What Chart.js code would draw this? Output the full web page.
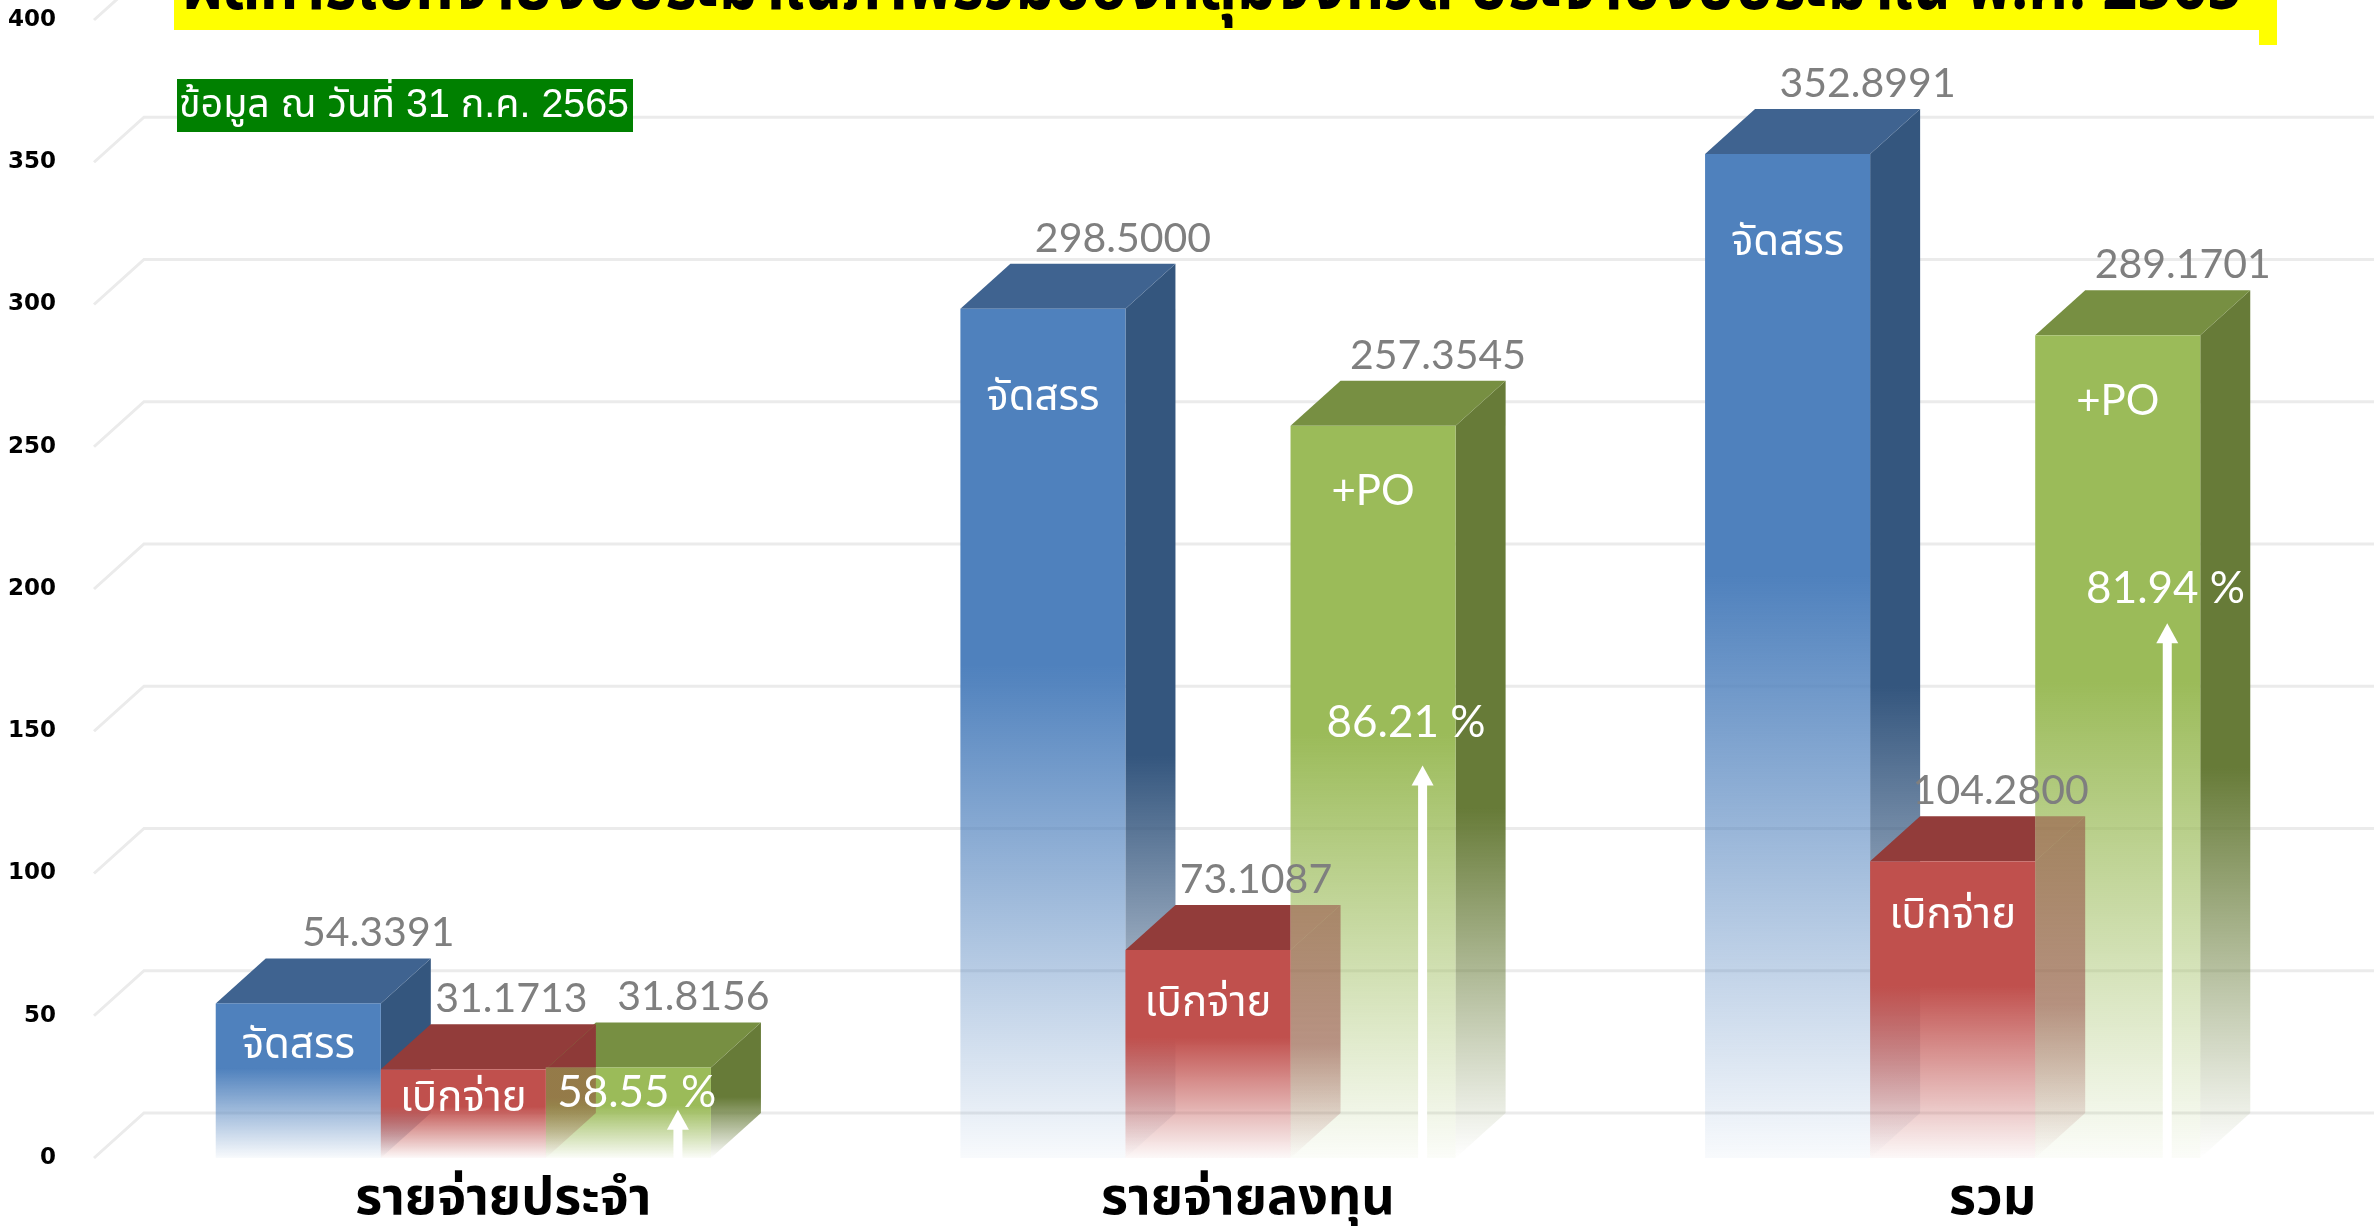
<!DOCTYPE html>
<html>
<head>
<meta charset="utf-8">
<script src="https://cdn.jsdelivr.net/npm/chart.js@4.4.1/dist/chart.umd.min.js"></script>
<style>
  html, body { margin: 0; padding: 0; background: #fff; overflow: hidden; }
</style>
</head>
<body>
<canvas id="budgetChart" width="2374" height="1226"></canvas>
<script>
// data (ล้านบาท)
var categories = ['รายจ่ายประจำ', 'รายจ่ายลงทุน', 'รวม'];
var seriesNames = ['จัดสรร', 'เบิกจ่าย', '+PO'];
var allocated = [54.3391, 298.5000, 352.8991];
var disbursed = [31.1713, 73.1087, 104.2800];
var withPO = [31.8156, 257.3545, 289.1701];
var percentLabels = ['58.55 %', '86.21 %', '81.94 %'];
var valueLabels = [
    ['54.3391', '298.5000', '352.8991'],
    ['31.1713', '73.1087', '104.2800'],
    ['31.8156', '257.3545', '289.1701']
];
var titleText = 'ผลการเบิกจ่ายงบประมาณภาพรวมของกลุ่มจังหวัด ประจำปีงบประมาณ พ.ศ. 2565';
var noteText = 'ข้อมูล ณ วันที่ 31 ก.ค. 2565';

// look of the 3d boxes
var DX = 50, DY = 45;
var frontColors = ['#4F81BD', '#C0504D', '#9BBB59'];
var sideColors = ['#34567E', '#8E3A38', '#677B38'];
var topColors = ['#3F6390', '#923C3A', '#778F42'];
var valueShift = [80, 48, 65];
var thaiFont = "'Noto Sans Thai', 'Noto Sans Thai UI', 'Noto Sans', Tahoma, 'DejaVu Sans', sans-serif";

// where the % text and arrows sit inside the green bars (value units / fraction of bar width)
var pctLevel = [23, 153, 200];
var arrowTop = [17, 138, 188];
var pctXFrac = [0.55, 0.70, 0.79];

function rgba(hex, a) {
    var n = parseInt(hex.slice(1), 16);
    return 'rgba(' + (n >> 16 & 255) + ',' + (n >> 8 & 255) + ',' + (n & 255) + ',' + a + ')';
}

function fade(ctx, hex, y0, y1, solidStop, endAlpha) {
    var g = ctx.createLinearGradient(0, y0, 0, y1);
    g.addColorStop(0, rgba(hex, 1));
    g.addColorStop(solidStop, rgba(hex, 1));
    g.addColorStop(1, rgba(hex, endAlpha));
    return g;
}

function drawSides(ctx, el, k) {
    var L = el.x - el.width / 2, R = el.x + el.width / 2, T = el.y, B = el.base;
    ctx.beginPath();
    ctx.moveTo(R, T); ctx.lineTo(R + DX, T - DY); ctx.lineTo(R + DX, B - DY); ctx.lineTo(R, B);
    ctx.closePath();
    ctx.fillStyle = fade(ctx, sideColors[k], T - DY, B, 0.55, 0.0);
    ctx.fill();
    ctx.beginPath();
    ctx.moveTo(L, T); ctx.lineTo(L + DX, T - DY); ctx.lineTo(R + DX, T - DY); ctx.lineTo(R, T);
    ctx.closePath();
    ctx.fillStyle = topColors[k];
    ctx.fill();
}

function drawFront(ctx, el, k) {
    var L = el.x - el.width / 2, T = el.y, B = el.base;
    ctx.fillStyle = fade(ctx, frontColors[k], T, B, 0.42, 0.04);
    ctx.fillRect(L, T, el.width, B - T);
}

var box3d = {
    id: 'box3d',
    beforeDatasetsDraw: function(chart) {
        var ctx = chart.ctx, y = chart.scales.y, area = chart.chartArea;
        ctx.save();
        ctx.strokeStyle = '#ebebeb';
        ctx.lineWidth = 3;
        y.ticks.forEach(function(t) {
            var py = y.getPixelForValue(t.value);
            ctx.beginPath();
            ctx.moveTo(area.left + 3, py);
            ctx.lineTo(area.left + 3 + DX, py - DY);
            ctx.lineTo(chart.width, py - DY);
            ctx.stroke();
        });
        ctx.restore();
    },
    afterDatasetsDraw: function(chart) {
        var ctx = chart.ctx;
        var metas = [0, 1, 2].map(function(d) { return chart.getDatasetMeta(d); });
        var W = chart.width, H = chart.height;
        ctx.save();
        categories.forEach(function(c, i) {
            var b = metas[0].data[i], r = metas[1].data[i], g = metas[2].data[i];
            drawSides(ctx, b, 0); drawFront(ctx, b, 0);
            drawSides(ctx, g, 2); drawFront(ctx, g, 2);
            // red sides: solid where free, see-through where they sit over the green front
            var gL = g.x - g.width / 2, gT = g.y;
            ctx.save();
            ctx.beginPath();
            ctx.rect(0, 0, W, H);
            ctx.rect(gL, gT, g.width, g.base - gT);
            ctx.clip('evenodd');
            drawSides(ctx, r, 1);
            ctx.restore();
            ctx.save();
            ctx.beginPath();
            ctx.rect(gL, gT, g.width, g.base - gT);
            ctx.clip();
            ctx.globalAlpha = 0.5;
            drawSides(ctx, r, 1);
            ctx.restore();
            drawFront(ctx, r, 1);
        });

        // arrows + percentages inside the green bars
        var ys = chart.scales.y;
        categories.forEach(function(c, i) {
            var g = metas[2].data[i];
            var gL = g.x - g.width / 2;
            var ax = gL + 0.8 * g.width;
            var tip = ys.getPixelForValue(arrowTop[i]);
            ctx.fillStyle = '#ffffff';
            ctx.fillRect(ax - 4.5, tip + 18, 9, g.base - tip - 18);
            ctx.beginPath();
            ctx.moveTo(ax, tip); ctx.lineTo(ax + 11, tip + 20); ctx.lineTo(ax - 11, tip + 20);
            ctx.closePath();
            ctx.fill();
            ctx.font = '44px Lato, sans-serif';
            ctx.textAlign = 'center';
            ctx.textBaseline = 'middle';
            ctx.fillText(percentLabels[i], gL + pctXFrac[i] * g.width, ys.getPixelForValue(pctLevel[i]));
        });

        // names inside bars
        ctx.fillStyle = '#ffffff';
        ctx.textAlign = 'center';
        ctx.textBaseline = 'middle';
        ctx.font = '42px ' + thaiFont;
        categories.forEach(function(c, i) {
            var b = metas[0].data[i], r = metas[1].data[i], g = metas[2].data[i];
            ctx.fillText(seriesNames[0], b.x, b.y + Math.min(93, 0.3 * (b.base - b.y)));
            ctx.fillText(seriesNames[1], r.x, r.y + Math.min(58, 0.37 * (r.base - r.y)));
            if (i > 0) {
                ctx.font = '42px Lato, sans-serif';
                ctx.fillText(seriesNames[2], g.x, g.y + 66);
                ctx.font = '42px ' + thaiFont;
            }
        });

        // value labels above the boxes
        ctx.fillStyle = '#7f7f7f';
        ctx.font = '41px Lato, sans-serif';
        ctx.textBaseline = 'alphabetic';
        metas.forEach(function(m, d) {
            m.data.forEach(function(el, i) {
                ctx.fillText(valueLabels[d][i], el.x + valueShift[d], el.y - DY - 12);
            });
        });
        ctx.restore();
    },
    afterDraw: function(chart) {
        var ctx = chart.ctx;
        ctx.save();
        // title banner (cut off at the top edge, as in the slide)
        ctx.fillStyle = '#ffff00';
        ctx.fillRect(174, 0, 2085, 30);
        ctx.fillRect(2259, 0, 18, 45);
        ctx.fillStyle = '#000000';
        ctx.font = 'bold 72px ' + thaiFont;
        ctx.textAlign = 'center';
        ctx.textBaseline = 'alphabetic';
        var tw = ctx.measureText(titleText).width;
        var sx = Math.min(1, 2060 / tw);
        ctx.translate(1212, 9);
        ctx.scale(sx, 1);
        ctx.fillText(titleText, 0, 0);
        ctx.setTransform(1, 0, 0, 1, 0, 0);

        // date note
        ctx.fillStyle = '#008000';
        ctx.fillRect(177, 79, 456, 53);
        ctx.fillStyle = '#ffffff';
        ctx.font = '40px ' + "'Liberation Sans', Arial, " + thaiFont;
        ctx.textAlign = 'left';
        ctx.textBaseline = 'middle';
        ctx.fillText(noteText, 179, 106, 450);
        ctx.restore();
    }
};

var ctx = document.getElementById('budgetChart').getContext('2d');
window.budgetChart = new Chart(ctx, {
    type: 'bar',
    data: {
        labels: categories,
        datasets: [
            { label: seriesNames[0], data: allocated, backgroundColor: 'rgba(0,0,0,0)' },
            { label: seriesNames[1], data: disbursed, backgroundColor: 'rgba(0,0,0,0)' },
            { label: seriesNames[2], data: withPO, backgroundColor: 'rgba(0,0,0,0)' }
        ]
    },
    options: {
        responsive: false,
        animation: false,
        events: [],
        layout: { padding: { top: 20, right: 49, left: 0, bottom: 0 } },
        datasets: { bar: { categoryPercentage: 0.665, barPercentage: 1.0, borderWidth: 0 } },
        plugins: {
            legend: { display: false },
            tooltip: { enabled: false }
        },
        scales: {
            x: {
                grid: { display: false, drawTicks: false },
                border: { display: false },
                afterFit: function(s) { s.height = 68; s.paddingLeft = 0; s.paddingRight = 0; },
                ticks: {
                    color: '#000',
                    labelOffset: 40,
                    padding: 14,
                    font: { family: thaiFont, size: 52, weight: 'bold' }
                }
            },
            y: {
                min: 0,
                max: 400,
                grid: { display: false, drawTicks: false },
                border: { display: false },
                afterFit: function(s) { s.width = 91; s.paddingTop = 0; s.paddingBottom = 0; },
                ticks: {
                    stepSize: 50,
                    color: '#000',
                    padding: 35,
                    font: { family: 'DejaVu Sans', size: 23, weight: 'bold' }
                }
            }
        }
    },
    plugins: [box3d]
});
</script>
</body>
</html>
